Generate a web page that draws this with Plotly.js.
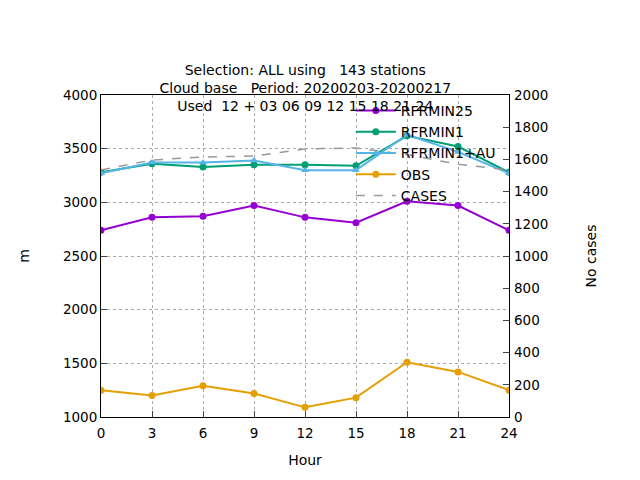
<!DOCTYPE html><html><head><script src="https://cdn.plot.ly/plotly-3.0.0.min.js"></script></head><body style="margin:0"><div id="c" style="width:640px;height:480px"></div><script>
const hours=[0,3,6,9,12,15,18,21,24];
const rfrmin25=[2740,2860,2870,2970,2860,2810,3010,2970,2740];
const rfrmin1=[3280,3360,3330,3350,3350,3340,3620,3520,3280];
const rfrmin1au=[3270,3370,3370,3390,3300,3300,3630,3470,3270];
const obs=[1250,1200,1290,1220,1090,1180,1510,1420,1250];
const cases=[1534,1596,1615,1621,1665,1671,1630,1570,1534];
const mk=(n,y,c,sym)=>({x:hours,y:y,name:n,mode:'lines+markers',line:{color:c,width:2},marker:{color:c,size:7,symbol:sym}});
const data=[mk('RFRMIN25',rfrmin25,'#9400d3','circle'),mk('RFRMIN1',rfrmin1,'#009e73','circle'),mk('RFRMIN1+AU',rfrmin1au,'#56b4e9','triangle-up'),mk('OBS',obs,'#e69f00','circle'),
{x:hours,y:cases,name:'CASES',yaxis:'y2',mode:'lines',line:{color:'#999',width:1.5,dash:'dash'}}];
const ax={showline:true,mirror:true,linecolor:'#000',gridcolor:'#aaa',griddash:'dot',ticks:'inside',ticklen:6,zeroline:false};
Plotly.newPlot('c',data,{width:640,height:480,margin:{l:101,r:131,t:95,b:63},
font:{family:'DejaVu Sans',size:13.5,color:'#000'},showlegend:true,
legend:{x:0.98,y:1,xanchor:'right',yanchor:'top',bgcolor:'rgba(0,0,0,0)',font:{size:14},tracegroupgap:0,itemwidth:40},
title:{text:'Selection: ALL using   143 stations<br>Cloud base   Period: 20200203-20200217<br>Used  12 + 03 06 09 12 15 18 21 24',x:0.477,xanchor:'center',yref:'paper',y:1,yanchor:'bottom',pad:{b:20},font:{size:14}},
xaxis:Object.assign({},ax,{range:[0,24],tickvals:hours,ticklabelstandoff:4,title:{text:'Hour',standoff:14,font:{size:14}}}),
yaxis:Object.assign({},ax,{range:[1000,4000],dtick:500,title:{text:'m',standoff:30,font:{size:14}}}),
yaxis2:{overlaying:'y',side:'right',range:[0,2000],dtick:200,ticks:'inside',ticklen:6,showgrid:false,zeroline:false,ticklabelstandoff:4,title:{text:'No cases',standoff:38,font:{size:14}}},
plot_bgcolor:'#fff',paper_bgcolor:'#fff'},{displayModeBar:false});
</script></body></html>
